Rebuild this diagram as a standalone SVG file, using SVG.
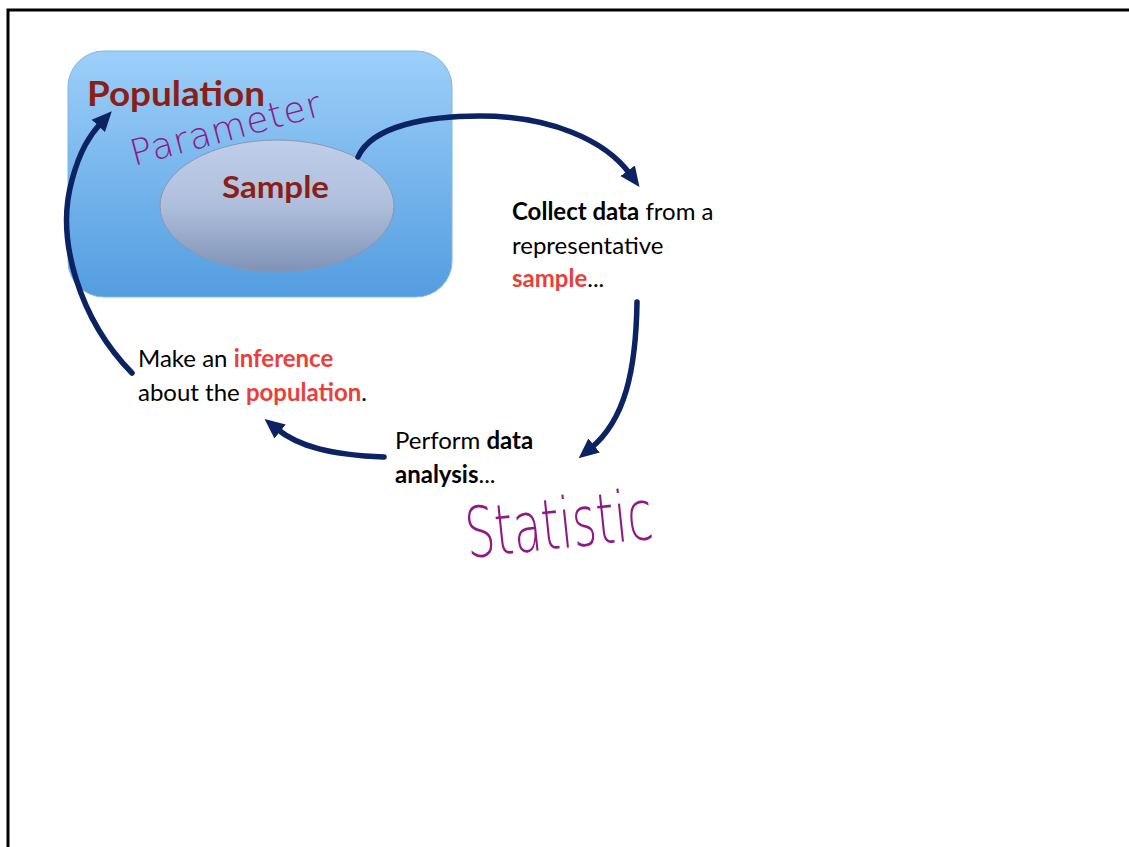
<svg xmlns="http://www.w3.org/2000/svg" width="1129" height="847" viewBox="0 0 1129 847">
<style>
.t{font-family:Lato,"Open Sans","Liberation Sans",sans-serif;font-size:24px;fill:#000}
.b{font-weight:bold}
.r{fill:#E8403A;font-weight:bold}
.h{font-family:"DejaVu Sans","Liberation Sans",sans-serif;font-weight:200;fill:#8E1A85}
.lbl{font-family:Lato,"Open Sans","Liberation Sans",sans-serif;font-weight:bold;fill:#8A1F17}
.conn{fill:none;stroke:#0C2262;stroke-width:5.5;stroke-linecap:round}
</style>
<defs>
<linearGradient id="gPop" x1="0" y1="0" x2="0" y2="1">
<stop offset="0" stop-color="#9DCFFA"/>
<stop offset="1" stop-color="#539DE0"/>
</linearGradient>
<linearGradient id="gSam" x1="0" y1="0" x2="0" y2="1">
<stop offset="0" stop-color="#BFCFEA"/>
<stop offset="0.5" stop-color="#AEBEDC"/>
<stop offset="1" stop-color="#7F92B6"/>
</linearGradient>
<marker id="ah" markerUnits="userSpaceOnUse" markerWidth="26" markerHeight="26" refX="4" refY="13" orient="auto">
<path d="M0,4 L20,13 L0,22 Z" fill="#0C2262"/>
</marker>
</defs>
<rect x="0" y="0" width="1129" height="847" fill="#fff"/>
<path d="M8,847 L8,10 L1129,10" fill="none" stroke="#000" stroke-width="3"/>
<g id="population">
<rect x="68" y="51" width="384" height="246" rx="36" ry="36" fill="url(#gPop)" stroke="#7FB6E8" stroke-width="1"/>
<text class="lbl" x="87" y="106" font-size="35" textLength="178" lengthAdjust="spacingAndGlyphs">Population</text>
</g>
<g id="sample">
<ellipse cx="277" cy="206" rx="117" ry="66" fill="url(#gSam)" stroke="#8A97B0" stroke-width="1"/>
<text class="lbl" x="222" y="198" font-size="30" textLength="107" lengthAdjust="spacingAndGlyphs">Sample</text>
</g>
<g id="parameter-note">
<text class="h" x="0" y="0" font-size="36" textLength="196" lengthAdjust="spacing" transform="translate(134,166) rotate(-15)">Parameter</text>
</g>
<g id="collect">
<text class="t" x="512" y="220"><tspan class="b">Collect data</tspan> from a</text>
<text class="t" x="512" y="254">representative</text>
<text class="t" x="512" y="287"><tspan class="r">sample</tspan>...</text>
</g>
<g id="analysis">
<text class="t" x="395" y="449">Perform <tspan class="b">data</tspan></text>
<text class="t" x="395" y="483"><tspan class="b">analysis</tspan>...</text>
</g>
<g id="statistic-note">
<text class="h" x="0" y="0" font-size="70" textLength="188" lengthAdjust="spacingAndGlyphs" transform="translate(468,558) rotate(-6)">Statistic</text>
</g>
<g id="inference">
<text class="t" x="138" y="367">Make an <tspan class="r">inference</tspan></text>
<text class="t" x="138" y="401">about the <tspan class="r">population</tspan>.</text>
</g>
<g id="connectors">
<path class="conn" marker-end="url(#ah)" d="M358,157 C372,125 430,116 480,116 C550,116 605,140 630,174"/>
<path class="conn" marker-end="url(#ah)" d="M637,302 C636,370 625,420 591,448"/>
<path class="conn" marker-end="url(#ah)" d="M384,457 C330,455 298,446 277,429"/>
<path class="conn" marker-end="url(#ah)" d="M132,373 C80,320 55,240 72,180 C80,150 90,135 101,123"/>
</g>
</svg>
